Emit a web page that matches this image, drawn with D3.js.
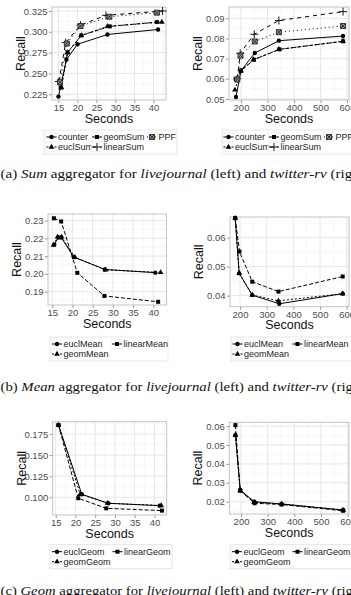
<!DOCTYPE html>
<html>
<head>
<meta charset="utf-8">
<script src="https://cdn.jsdelivr.net/npm/d3@7"></script>
<style>
  body { margin: 0; background: #fff; }
  svg text { font-family: "Liberation Sans", Arial, sans-serif; }
  svg text.cap { font-family: "Liberation Serif", "DejaVu Serif", serif; }
</style>
</head>
<body>
<svg id="fig" width="351" height="595"></svg>
<script>
// series names (legend order)
const sumNames = ["counter", "euclSum", "geomSum", "linearSum", "PPF"];
const meanNames = ["euclMean", "geomMean", "linearMean"];
const geomNames = ["euclGeom", "geomGeom", "linearGeom"];

// tick labels
const secLjTicks = [15, 20, 25, 30, 35, 40];
const secTwTicks = [200, 300, 400, 500, 600];
const sumLjTicks = [0.225, 0.250, 0.275, 0.300, 0.325];
const sumTwTicks = [0.05, 0.06, 0.07, 0.08, 0.09];
const meanLjTicks = [0.19, 0.20, 0.21, 0.22, 0.23];
const meanTwTicks = [0.04, 0.05, 0.06];
const geomLjTicks = [0.100, 0.125, 0.150, 0.175];
const geomTwTicks = [0.02, 0.03, 0.04, 0.05, 0.06];

// (a) Sum aggregator, livejournal: [seconds, recall]
const sumLjCounter = [[15.0, 0.2222], [17.1, 0.2667], [20.0, 0.2850], [27.9, 0.2968], [41.2, 0.3028]];
const sumLjEucl = [[15.8, 0.2330], [17.4, 0.2752], [21.0, 0.2956], [27.9, 0.3065], [42.2, 0.3117]];
const sumLjGeom = [[15.6, 0.2330], [17.4, 0.2752], [21.0, 0.2956], [28.5, 0.3065], [40.9, 0.3117]];
const sumLjLinear = [[15.1, 0.2403], [16.9, 0.2870], [20.8, 0.3080], [27.5, 0.3198], [42.4, 0.3250]];
const sumLjPPF = [[15.4, 0.2395], [17.2, 0.2859], [20.8, 0.3070], [28.4, 0.3181], [40.9, 0.3230]];

// (a) Sum aggregator, twitter-rv
const sumTwCounter = [[181, 0.0510], [200, 0.0640], [252, 0.0728], [343, 0.0789], [585, 0.0812]];
const sumTwEucl = [[177, 0.0545], [200, 0.0640], [247, 0.0695], [343, 0.0746], [585, 0.0786]];
const sumTwGeom = [[180, 0.0600], [200, 0.0640], [249, 0.0695], [345, 0.0746], [585, 0.0786]];
const sumTwLinear = [[186, 0.0600], [197, 0.0727], [250, 0.0821], [343, 0.0889], [585, 0.0933]];
const sumTwPPF = [[186, 0.0597], [198, 0.0715], [252, 0.0785], [343, 0.0831], [585, 0.0862]];

// (b) Mean aggregator
const meanLjEucl = [[15.5, 0.2165], [16.5, 0.2205], [17.2, 0.2205], [20.3, 0.2095], [28.0, 0.2025], [40.5, 0.2007]];
const meanLjGeom = [[15.3, 0.2162], [16.3, 0.2208], [17.3, 0.2208], [20.6, 0.2093], [28.2, 0.2023], [41.8, 0.2008]];
const meanLjLinear = [[15.4, 0.2313], [17.2, 0.2295], [21.2, 0.2006], [27.9, 0.1876], [41.2, 0.1843]];
const meanTwEucl = [[182, 0.0667], [197, 0.0477], [246, 0.0402], [347, 0.0372], [585, 0.0407]];
const meanTwGeom = [[182, 0.0667], [197, 0.0477], [246, 0.0402], [344, 0.0382], [585, 0.0407]];
const meanTwLinear = [[182, 0.0667], [198, 0.0552], [246, 0.0448], [344, 0.0414], [585, 0.0466]];

// (c) Geom aggregator
const geomLjEucl = [[15.7, 0.1857], [21.6, 0.1036], [28.3, 0.0929], [41.3, 0.0901]];
const geomLjGeom = [[15.7, 0.1857], [21.2, 0.1036], [28.1, 0.0930], [41.7, 0.0901]];
const geomLjLinear = [[15.7, 0.1857], [20.7, 0.0989], [27.8, 0.0869], [41.9, 0.0842]];
const geomTwEucl = [[179, 0.0552], [197, 0.0262], [250, 0.0200], [352, 0.0188], [583, 0.0156]];
const geomTwGeom = [[179, 0.0552], [197, 0.0259], [249, 0.0197], [352, 0.0188], [583, 0.0156]];
const geomTwLinear = [[179, 0.0605], [197, 0.0258], [251, 0.0192], [352, 0.0185], [583, 0.0152]];

// ggplot-like default shapes and linetypes, by series order
const shapes = ["circle", "triangle", "square", "plus", "boxx"];
const dashes = [null, "2,2", "4,2", "4,4", "1,3"];

const svg = d3.select("#fig");

function markPath(shape) {
  if (shape == "circle") return { d: d3.symbol(d3.symbolCircle, 15)(), fill: "#000", stroke: "none" };
  if (shape == "triangle") return { d: d3.symbol(d3.symbolTriangle, 14)(), fill: "#000", stroke: "none" };
  if (shape == "square") return { d: d3.symbol(d3.symbolSquare, 16)(), fill: "#000", stroke: "none" };
  if (shape == "plus") return { d: "M-4,0H4M0,-4V4", fill: "none", stroke: "#000" };
  return { d: "M-2.5,-2.5H2.5V2.5H-2.5ZM-2.5,-2.5L2.5,2.5M2.5,-2.5L-2.5,2.5", fill: "#999", stroke: "#222" };
}

// midpoints between major breaks (plus one on each side if inside the range)
function minorBreaks(ticks, dom) {
  let step = ticks[1] - ticks[0];
  let out = [];
  for (let v = ticks[0] - step / 2; v <= ticks[ticks.length - 1] + step / 2 + 1e-9; v += step) {
    if (v > dom[0] && v < dom[1]) out.push(v);
  }
  return out;
}

function drawPanel(p) {
  let g = svg.append("g");
  let x = d3.scaleLinear().domain(p.xDomain).range([p.left, p.right]);
  let y = d3.scaleLinear().domain(p.yDomain).range([p.bottom, p.top]);

  // grid
  g.selectAll(".xmin").data(minorBreaks(p.xTicks, p.xDomain)).join("line")
    .attr("x1", d => x(d)).attr("x2", d => x(d)).attr("y1", p.top).attr("y2", p.bottom)
    .attr("stroke", "#f2f2f2").attr("stroke-width", 0.6);
  g.selectAll(".ymin").data(minorBreaks(p.yTicks, p.yDomain)).join("line")
    .attr("y1", d => y(d)).attr("y2", d => y(d)).attr("x1", p.left).attr("x2", p.right)
    .attr("stroke", "#f2f2f2").attr("stroke-width", 0.6);
  g.selectAll(".xmaj").data(p.xTicks).join("line")
    .attr("x1", d => x(d)).attr("x2", d => x(d)).attr("y1", p.top).attr("y2", p.bottom)
    .attr("stroke", "#e3e3e3").attr("stroke-width", 0.9);
  g.selectAll(".ymaj").data(p.yTicks).join("line")
    .attr("y1", d => y(d)).attr("y2", d => y(d)).attr("x1", p.left).attr("x2", p.right)
    .attr("stroke", "#e3e3e3").attr("stroke-width", 0.9);

  // axes
  let xAxis = g.append("g")
    .attr("transform", "translate(0," + p.bottom + ")")
    .call(d3.axisBottom(x).tickValues(p.xTicks).tickFormat(d3.format("d")).tickSize(3).tickPadding(1.5));
  let yAxis = g.append("g")
    .attr("transform", "translate(" + p.left + ",0)")
    .call(d3.axisLeft(y).tickValues(p.yTicks).tickFormat(d3.format(p.yFormat)).tickSize(3).tickPadding(1.5));
  [xAxis, yAxis].forEach(a => {
    a.select(".domain").remove();
    a.selectAll("line").attr("stroke", "#9a9a9a");
    a.selectAll("text").attr("fill", "#4d4d4d").style("font-size", "9.5px");
  });

  g.append("rect")
    .attr("x", p.left).attr("y", p.top)
    .attr("width", p.right - p.left).attr("height", p.bottom - p.top)
    .attr("fill", "none").attr("stroke", "#bdbdbd").attr("stroke-width", 0.9);

  // axis titles
  g.append("text")
    .attr("x", (p.left + p.right) / 2).attr("y", p.bottom + 22.5)
    .attr("text-anchor", "middle").style("font-size", "12.5px").attr("fill", "#111")
    .text("Seconds");
  g.append("text")
    .attr("transform", "translate(" + (p.left - 27) + "," + ((p.top + p.bottom) / 2) + ") rotate(-90)")
    .attr("text-anchor", "middle").style("font-size", "12.5px").attr("fill", "#111")
    .text("Recall");

  // lines, then points
  let line = d3.line().x(d => x(d[0])).y(d => y(d[1]));
  p.series.forEach((s, i) => {
    g.append("path").datum(s)
      .attr("d", line).attr("fill", "none").attr("stroke", "#000")
      .attr("stroke-width", 1).attr("stroke-dasharray", dashes[i]);
  });
  p.series.forEach((s, i) => {
    let m = markPath(shapes[i]);
    g.selectAll(null).data(s).join("path")
      .attr("transform", d => "translate(" + x(d[0]) + "," + y(d[1]) + ")")
      .attr("d", m.d).attr("fill", m.fill).attr("stroke", m.stroke).attr("stroke-width", 0.9);
  });

  // legend
  let L = p.legend;
  g.append("rect")
    .attr("x", L.x0).attr("y", L.rows[0] - 7)
    .attr("width", L.x1 - L.x0).attr("height", L.rows[1] - L.rows[0] + 14)
    .attr("fill", "#fff").attr("stroke", "#e0e0e0").attr("stroke-width", 0.8);
  p.names.forEach((name, i) => {
    let kx = L.cols[Math.floor(i / 2)], ky = L.rows[i % 2];
    let k = g.append("g");
    k.append("rect").attr("x", kx - 5.5).attr("y", ky - 4.5).attr("width", 11).attr("height", 9)
      .attr("fill", "#fff").attr("stroke", "#ececec").attr("stroke-width", 0.6);
    k.append("line").attr("x1", kx - 5).attr("x2", kx + 5).attr("y1", ky).attr("y2", ky)
      .attr("stroke", "#000").attr("stroke-width", 1).attr("stroke-dasharray", dashes[i]);
    let m = markPath(shapes[i]);
    k.append("path").attr("transform", "translate(" + kx + "," + ky + ")")
      .attr("d", m.d).attr("fill", m.fill).attr("stroke", m.stroke).attr("stroke-width", 0.9);
    k.append("text").attr("x", kx + 6.5).attr("y", ky + 3.2)
      .style("font-size", "9px").attr("fill", "#1a1a1a").text(name);
  });
}

// caption in a serif face, stretched to the width of the LaTeX original
function caption(yBase, letter, agg) {
  let t = svg.append("text").attr("class", "cap")
    .attr("x", 0).attr("y", 0).style("font-size", "13.5px").attr("fill", "#111");
  t.append("tspan").text("(" + letter + ") ");
  t.append("tspan").style("font-style", "italic").text(agg);
  t.append("tspan").text(" aggregator for ");
  t.append("tspan").style("font-style", "italic").text("livejournal");
  t.append("tspan").text(" (left) and ");
  t.append("tspan").style("font-style", "italic").text("twitter-rv");
  t.append("tspan").text(" (right)");
  let w = t.node().getComputedTextLength();
  t.attr("transform", "translate(0.5," + yBase + ") scale(" + (369 / w) + ",1)");
}

// (a)
drawPanel({ left: 52, right: 166, top: 7, bottom: 100, xDomain: [13.3, 43.3], yDomain: [0.2181, 0.3298],
  xTicks: secLjTicks, yTicks: sumLjTicks, yFormat: ".3f",
  series: [sumLjCounter, sumLjEucl, sumLjGeom, sumLjLinear, sumLjPPF], names: sumNames,
  legend: { x0: 44, x1: 177, cols: [51.5, 97, 152], rows: [137, 147] } });
drawPanel({ left: 229, right: 349, top: 7, bottom: 100, xDomain: [154.7, 607.5], yDomain: [0.0495, 0.0956],
  xTicks: secTwTicks, yTicks: sumTwTicks, yFormat: ".2f",
  series: [sumTwCounter, sumTwEucl, sumTwGeom, sumTwLinear, sumTwPPF], names: sumNames,
  legend: { x0: 222, x1: 356, cols: [228.5, 274, 329], rows: [137, 147] } });
caption(178, "a", "Sum");

// (b)
drawPanel({ left: 48, right: 166.5, top: 214, bottom: 305, xDomain: [13.94, 43.27], yDomain: [0.1825, 0.2337],
  xTicks: secLjTicks, yTicks: meanLjTicks, yFormat: ".2f",
  series: [meanLjEucl, meanLjGeom, meanLjLinear], names: meanNames,
  legend: { x0: 50, x1: 168, cols: [57, 117], rows: [344, 354] } });
drawPanel({ left: 230, right: 349, top: 217, bottom: 306.7, xDomain: [162.5, 608.7], yDomain: [0.0362, 0.0671],
  xTicks: secTwTicks, yTicks: meanTwTicks, yFormat: ".2f",
  series: [meanTwEucl, meanTwGeom, meanTwLinear], names: meanNames,
  legend: { x0: 231, x1: 352, cols: [237.5, 297.5], rows: [344, 354] } });
caption(391, "b", "Mean");

// (c)
drawPanel({ left: 52.7, right: 166.7, top: 421.7, bottom: 515, xDomain: [14.24, 43.1], yDomain: [0.079, 0.1896],
  xTicks: secLjTicks, yTicks: geomLjTicks, yFormat: ".3f",
  series: [geomLjEucl, geomLjGeom, geomLjLinear], names: geomNames,
  legend: { x0: 50, x1: 172, cols: [57, 117.5], rows: [551.7, 561.7] } });
drawPanel({ left: 229.3, right: 349, top: 422.3, bottom: 514, xDomain: [156, 605], yDomain: [0.0135, 0.062],
  xTicks: secTwTicks, yTicks: geomTwTicks, yFormat: ".2f",
  series: [geomTwEucl, geomTwGeom, geomTwLinear], names: geomNames,
  legend: { x0: 230, x1: 355, cols: [237, 297.5], rows: [551.7, 561.7] } });
caption(595, "c", "Geom");
</script>
</body>
</html>
